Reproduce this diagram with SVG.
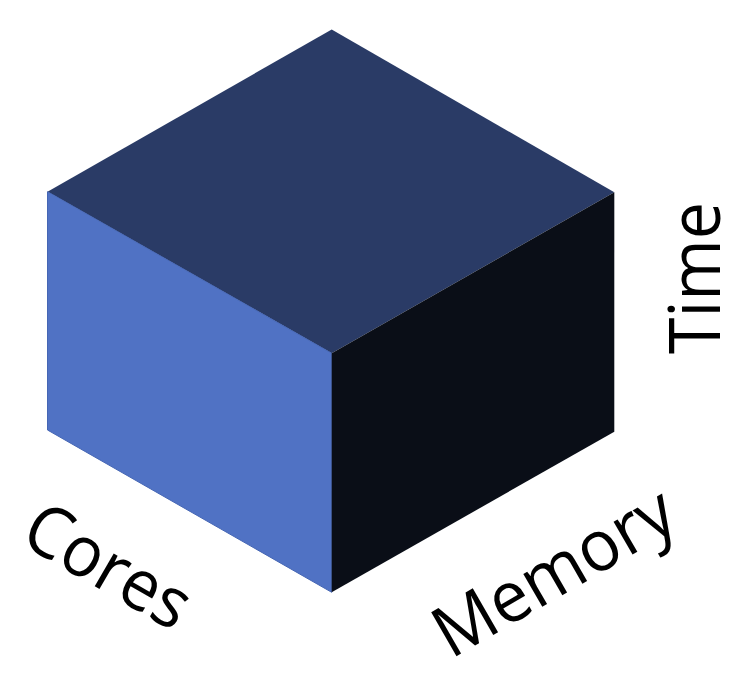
<svg xmlns="http://www.w3.org/2000/svg" width="754" height="678" viewBox="0 0 754 678">
<style>
.lbl{font-family:"Open Sans","Liberation Sans",sans-serif;font-size:71px;fill:#000;text-anchor:middle}
</style>
<rect width="754" height="678" fill="#fff"/>
<g id="cube">
<polygon id="top" points="331.7,29.5 614.3,192.3 331.7,353.3 47.5,191.7" fill="#2a3b66"/>
<polygon id="left" points="47.5,191.7 331.7,353.3 331.7,592.3 47.5,430" fill="#5072c4" stroke="#4566b4" stroke-width="1"/>
<polygon id="right" points="331.7,353.3 614.3,192.3 614.3,431.7 331.7,592.3" fill="#0a0e17"/>
</g>
<g id="label-time"><text class="lbl" transform="translate(720,278) rotate(-90)" textLength="152" lengthAdjust="spacingAndGlyphs">Time</text></g>
<g id="label-cores"><text class="lbl" transform="translate(96,587) rotate(30)" textLength="180" lengthAdjust="spacingAndGlyphs">Cores</text></g>
<g id="label-memory"><text class="lbl" transform="translate(566,593) rotate(-30)" textLength="266" lengthAdjust="spacingAndGlyphs">Memory</text></g>
</svg>
